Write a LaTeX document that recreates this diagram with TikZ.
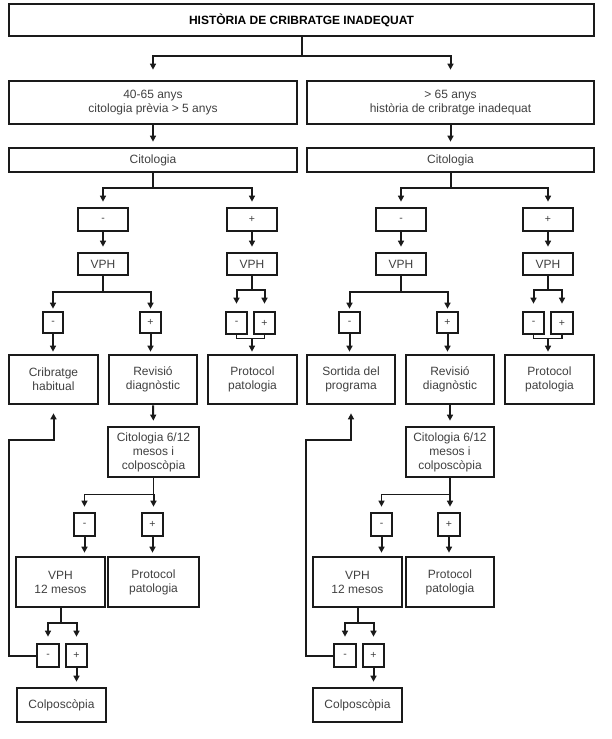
\documentclass[tikz,border=0pt]{standalone}
\usepackage{fontspec}
\setmainfont{Liberation Sans}
\usetikzlibrary{arrows.meta}
\definecolor{ink}{HTML}{1A1A1A}
\definecolor{txt}{HTML}{404040}
\begin{document}
\begin{tikzpicture}[x=1pt,y=-1pt,
 box/.style={draw=ink, line width=2.7pt, inner sep=0pt, align=center, text=txt,
   font=\fontsize{12}{14}\selectfont},
 sbox/.style={box, font=\fontsize{10.5}{12}\selectfont},
 conn/.style={draw=ink, line width=2pt},
 thinc/.style={line width=1.3pt},
 arr/.style={conn, -{Triangle[length=6pt,width=6pt]}, shorten >=5pt},
]
\useasboundingbox (0,0) rectangle (611,739);

% ---------- top ----------
\node[box, minimum width=585pt, minimum height=32pt, text=black,
  font=\fontsize{12}{14}\selectfont\bfseries] (top) at (301.5,20) {HISTÒRIA DE CRIBRATGE INADEQUAT};
\node[box, minimum width=288pt, minimum height=43pt] (L1) at (153,102.5) {40-65 anys\\citologia prèvia > 5 anys};
\node[box, minimum width=287pt, minimum height=43pt] (R1) at (450.5,102.5) {> 65 anys\\història de cribratge inadequat};
\node[box, minimum width=288pt, minimum height=24pt] (LC) at (153,160) {Citologia};
\node[box, minimum width=287pt, minimum height=24pt] (RC) at (450.5,160) {Citologia};

\draw[conn] (top.south) -- ++(0,19) coordinate (jt);
\draw[arr, shorten >=10pt] (jt) -| (L1.north);
\draw[arr, shorten >=10pt] (jt) -| (R1.north);
\draw[arr] (L1.south) -- (LC.north);
\draw[arr] (R1.south) -- (RC.north);

% ---------- left column ----------
\node[sbox, minimum width=50pt, minimum height=23pt] (lm1) at (103,219.5) {-};
\node[sbox, minimum width=50pt, minimum height=23pt] (lp1) at (252,219.5) {+};
\node[box, minimum width=50pt, minimum height=22pt] (lv1) at (103,264) {VPH};
\node[box, minimum width=50pt, minimum height=22pt] (lv2) at (252,264) {VPH};
\node[sbox, minimum width=20pt, minimum height=21pt] (lm2) at (53,322.5) {-};
\node[sbox, minimum width=21pt, minimum height=21pt] (lp2) at (150.5,322.5) {+};
\node[sbox, minimum width=21pt, minimum height=22pt] (lm3) at (236.5,323) {-};
\node[sbox, minimum width=21pt, minimum height=22pt] (lp3) at (264.5,323) {+};
\node[box, minimum width=89pt, minimum height=49pt] (crib) at (53.5,379.5) {Cribratge\\habitual};
\node[box, minimum width=88pt, minimum height=49pt] (rev) at (153,379.5) {Revisió\\diagnòstic};
\node[box, minimum width=89pt, minimum height=49pt] (prot1) at (252.5,379.5) {Protocol\\patologia};
\node[box, minimum width=91pt, minimum height=50pt] (cit1) at (153.5,452) {Citologia 6/12\\mesos i\\colposcòpia};
\node[sbox, minimum width=21pt, minimum height=23pt] (lm4) at (84.5,524.5) {-};
\node[sbox, minimum width=21pt, minimum height=23pt] (lp4) at (152.5,524.5) {+};
\node[box, minimum width=89pt, minimum height=50pt] (vph12) at (60.5,582) {VPH\\12 mesos};
\node[box, minimum width=91pt, minimum height=50pt] (prot2) at (153.5,582) {Protocol\\patologia};
\node[sbox, minimum width=22pt, minimum height=23pt] (lm5) at (48,655.5) {-};
\node[sbox, minimum width=21pt, minimum height=23pt] (lp5) at (76.5,655.5) {+};
\node[box, minimum width=89pt, minimum height=34pt] (colp) at (61.5,705) {Colposcòpia};
\coordinate (fbL) at (9,440);

\draw[conn] (LC.south) -- ++(0,15) coordinate (jl);
\draw[arr] (jl) -| (lm1.north);
\draw[arr] (jl) -| (lp1.north);
\draw[arr] (lm1.south) -- (lv1.north);
\draw[arr] (lp1.south) -- (lv2.north);
\draw[conn] (lv1.south) -- ++(0,16) coordinate (jl2);
\draw[arr, shorten >=2pt] (jl2) -| (lm2.north);
\draw[arr, shorten >=2pt] (jl2) -| (lp2.north);
\draw[arr, shorten >=2pt] (lm2.south) -- (lm2.south |- crib.north);
\draw[arr, shorten >=2pt] (lp2.south) -- (lp2.south |- rev.north);
\draw[conn] (lv2.south) -- ++(0,14) coordinate (jl3);
\draw[arr, shorten >=7pt] (jl3) -| (lm3.north);
\draw[arr, shorten >=7pt] (jl3) -| (lp3.north);
\draw[conn, thinc] (lm3.south) -- ++(0,3) coordinate (bl) -| (lp3.south);
\draw[arr, shorten >=2pt] (bl -| lv2.south) -- (lv2.south |- prot1.north);

\draw[arr] (rev.south) -- (cit1.north);
\draw[conn, thinc] (cit1.south) -- ++(0,16) coordinate (jl4);
\draw[arr, thinc] (jl4) -| (lm4.north);
\draw[arr] (jl4) -- (jl4 |- lp4.north);
\draw[arr, shorten >=3pt] (lm4.south) -- (lm4.south |- vph12.north);
\draw[arr, shorten >=3pt] (lp4.south) -- (lp4.south |- prot2.north);
\draw[conn] (vph12.south) -- ++(0,15) coordinate (jl5);
\draw[arr, shorten >=6pt] (jl5) -| (lm5.north);
\draw[arr, shorten >=6pt] (jl5) -| (lp5.north);
\draw[arr] (lp5.south) -- (lp5.south |- colp.north);
\draw[arr, shorten >=8pt] (lm5.west) -| (fbL) -| (crib.south);

% ---------- right column ----------
\node[sbox, minimum width=50pt, minimum height=23pt] (rm1) at (401,219.5) {-};
\node[sbox, minimum width=50pt, minimum height=23pt] (rp1) at (548,219.5) {+};
\node[box, minimum width=50pt, minimum height=22pt] (rv1) at (401,264) {VPH};
\node[box, minimum width=50pt, minimum height=22pt] (rv2) at (548,264) {VPH};
\node[sbox, minimum width=21pt, minimum height=21pt] (rm2) at (349.5,322.5) {-};
\node[sbox, minimum width=21pt, minimum height=21pt] (rp2) at (447.5,322.5) {+};
\node[sbox, minimum width=21pt, minimum height=22pt] (rm3) at (533.5,323) {-};
\node[sbox, minimum width=22pt, minimum height=22pt] (rp3) at (562,323) {+};
\node[box, minimum width=88pt, minimum height=49pt] (sort) at (351,379.5) {Sortida del\\programa};
\node[box, minimum width=88pt, minimum height=49pt] (rrev) at (450,379.5) {Revisió\\diagnòstic};
\node[box, minimum width=89pt, minimum height=49pt] (rprot1) at (549.5,379.5) {Protocol\\patologia};
\node[box, minimum width=88pt, minimum height=50pt] (rcit1) at (450,452) {Citologia 6/12\\mesos i\\colposcòpia};
\node[sbox, minimum width=21pt, minimum height=23pt] (rm4) at (381.5,524.5) {-};
\node[sbox, minimum width=22pt, minimum height=23pt] (rp4) at (449,524.5) {+};
\node[box, minimum width=89pt, minimum height=50pt] (rvph12) at (357.5,582) {VPH\\12 mesos};
\node[box, minimum width=88pt, minimum height=50pt] (rprot2) at (450,582) {Protocol\\patologia};
\node[sbox, minimum width=22pt, minimum height=23pt] (rm5) at (345,655.5) {-};
\node[sbox, minimum width=21pt, minimum height=23pt] (rp5) at (373.5,655.5) {+};
\node[box, minimum width=89pt, minimum height=34pt] (rcolp) at (357.5,705) {Colposcòpia};
\coordinate (fbR) at (306,440);

\draw[conn] (RC.south) -- ++(0,15) coordinate (jr);
\draw[arr] (jr) -| (rm1.north);
\draw[arr] (jr) -| (rp1.north);
\draw[arr] (rm1.south) -- (rv1.north);
\draw[arr] (rp1.south) -- (rv2.north);
\draw[conn] (rv1.south) -- ++(0,16) coordinate (jr2);
\draw[arr, shorten >=2pt] (jr2) -| (rm2.north);
\draw[arr, shorten >=2pt] (jr2) -| (rp2.north);
\draw[arr, shorten >=2pt] (rm2.south) -- (rm2.south |- sort.north);
\draw[arr, shorten >=2pt] (rp2.south) -- (rp2.south |- rrev.north);
\draw[conn] (rv2.south) -- ++(0,14) coordinate (jr3);
\draw[arr, shorten >=7pt] (jr3) -| (rm3.north);
\draw[arr, shorten >=7pt] (jr3) -| (rp3.north);
\draw[conn, thinc] (rm3.south) -- ++(0,3) coordinate (br) -| (rp3.south);
\draw[arr, shorten >=2pt] (br -| rv2.south) -- (rv2.south |- rprot1.north);

\draw[arr] (rrev.south) -- (rcit1.north);
\draw[conn, thinc] (rcit1.south) -- ++(0,16) coordinate (jr4);
\draw[arr, thinc] (jr4) -| (rm4.north);
\draw[arr] (jr4) -- (jr4 |- rp4.north);
\draw[arr, shorten >=3pt] (rm4.south) -- (rm4.south |- rvph12.north);
\draw[arr, shorten >=3pt] (rp4.south) -- (rp4.south |- rprot2.north);
\draw[conn] (rvph12.south) -- ++(0,15) coordinate (jr5);
\draw[arr, shorten >=6pt] (jr5) -| (rm5.north);
\draw[arr, shorten >=6pt] (jr5) -| (rp5.north);
\draw[arr] (rp5.south) -- (rp5.south |- rcolp.north);
\draw[arr, shorten >=8pt] (rm5.west) -| (fbR) -| (sort.south);
\end{tikzpicture}
\end{document}
